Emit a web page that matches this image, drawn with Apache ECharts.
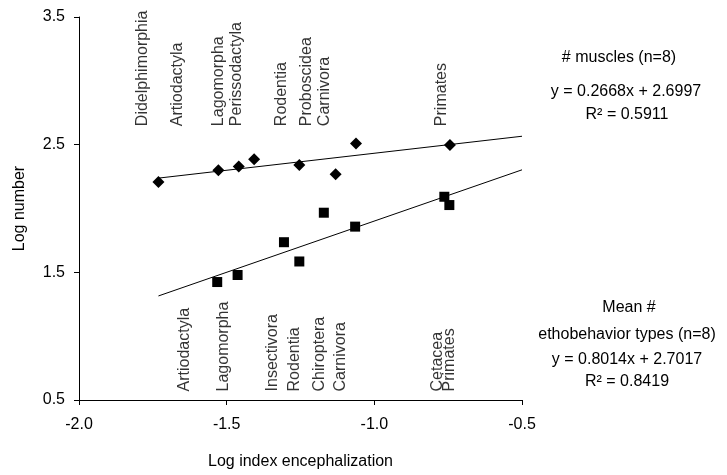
<!DOCTYPE html>
<html>
<head>
<meta charset="utf-8">
<script src="https://cdn.jsdelivr.net/npm/echarts@6/dist/echarts.min.js"></script>
<style>
  html, body { margin: 0; padding: 0; background: #fff; }
  #chart { width: 727px; height: 475px; }
</style>
</head>
<body>
<div id="chart"></div>
<script>
// valores
const musculos = [
  [-1.731, 2.208], [-1.528, 2.300], [-1.459, 2.329], [-1.407, 2.385],
  [-1.254, 2.341], [-1.131, 2.268], [-1.062, 2.510], [-0.744, 2.497],
];
const etocomport = [
  [-1.532, 1.424], [-1.463, 1.479], [-1.306, 1.736], [-1.254, 1.585],
  [-1.171, 1.967], [-1.065, 1.858], [-0.763, 2.092], [-0.746, 2.027],
];
const tendMusculos = [[-1.731, 2.238], [-0.5, 2.566]];
const tendEtocomport = [[-1.731, 1.315], [-0.5, 2.303]];

const ordenesArriba = ["Didelphimorphia", "Artiodactyla", "Lagomorpha", "Perissodactyla", "Rodentia", "Proboscidea", "Carnivora", "Primates"];
const xArriba = [-1.784, -1.667, -1.528, -1.466, -1.314, -1.231, -1.170, -0.772];
const ordenesAbajo = ["Artiodactyla", "Lagomorpha", "Insectivora", "Rodentia", "Chiroptera", "Carnivora", "Cetacea", "Primates"];
const xAbajo = [-1.641, -1.511, -1.344, -1.269, -1.184, -1.114, -0.787, -0.744];

const fuente = "Liberation Sans, Arial, sans-serif";
const tam = 16;

const etiquetas = (nombres, xs, y) =>
  nombres.map((n, i) => ({ value: [xs[i], y], name: n }));

const labelVertical = {
  show: true,
  position: "inside",
  rotate: 90,
  align: "left",
  verticalAlign: "middle",
  formatter: (p) => p.name,
  color: "#000",
  fontSize: tam,
  fontFamily: fuente,
};

const chart = echarts.init(document.getElementById("chart"));
chart.setOption({
  backgroundColor: "#fff",
  animation: false,
  grid: { left: 79, right: 205, top: 17, bottom: 73 },
  xAxis: {
    type: "value",
    min: -2.0,
    max: -0.5,
    interval: 0.5,
    name: "Log index encephalization",
    nameLocation: "middle",
    nameGap: 54,
    nameTextStyle: { color: "#000", fontSize: tam, fontFamily: fuente },
    axisLine: { lineStyle: { color: "#000", width: 1 } },
    axisTick: { inside: false, length: 5, lineStyle: { color: "#000" } },
    axisLabel: {
      color: "#000",
      fontSize: tam,
      fontFamily: fuente,
      margin: 17,
      formatter: (v) => v.toFixed(1),
    },
    splitLine: { show: false },
  },
  yAxis: {
    type: "value",
    min: 0.5,
    max: 3.5,
    interval: 1,
    name: "Log number",
    nameLocation: "middle",
    nameGap: 51,
    nameTextStyle: { color: "#000", fontSize: tam, fontFamily: fuente },
    axisLine: { show: true, lineStyle: { color: "#000", width: 1 } },
    axisTick: { show: true, length: 5, lineStyle: { color: "#000" } },
    axisLabel: {
      color: "#000",
      fontSize: tam,
      fontFamily: fuente,
      margin: 14,
      formatter: (v) => v.toFixed(1),
    },
    splitLine: { show: false },
  },
  series: [
    {
      name: "tend musculos",
      type: "line",
      data: tendMusculos,
      symbol: "none",
      lineStyle: { color: "#000", width: 1 },
      z: 1,
    },
    {
      name: "tend etocomport",
      type: "line",
      data: tendEtocomport,
      symbol: "none",
      lineStyle: { color: "#000", width: 1 },
      z: 1,
    },
    {
      name: "# muscles",
      type: "scatter",
      data: musculos,
      symbol: "diamond",
      symbolSize: [12, 12],
      itemStyle: { color: "#000", opacity: 1 },
      z: 3,
    },
    {
      name: "ethobehavior",
      type: "scatter",
      data: etocomport,
      symbol: "rect",
      symbolSize: [10, 10],
      itemStyle: { color: "#000", opacity: 1 },
      z: 3,
    },
    {
      name: "ordenes arriba",
      type: "scatter",
      data: etiquetas(ordenesArriba, xArriba, 2.645),
      symbolSize: 0,
      label: labelVertical,
    },
    {
      name: "ordenes abajo",
      type: "scatter",
      data: etiquetas(ordenesAbajo, xAbajo, 0.567),
      symbolSize: 0,
      label: labelVertical,
    },
  ],
  graphic: [
    ["# muscles (n=8)", 619, 58],
    ["y = 0.2668x + 2.6997", 626, 92],
    ["R\u00B2 = 0.5911", 627, 115],
    ["Mean #", 629, 308],
    ["ethobehavior types (n=8)", 627, 335],
    ["y = 0.8014x + 2.7017", 627, 360],
    ["R\u00B2 = 0.8419", 627, 382],
  ].map(([t, x, y]) => ({
    type: "text",
    x: x,
    y: y,
    style: {
      text: t,
      fill: "#000",
      font: tam + "px " + fuente,
      textAlign: "center",
      textVerticalAlign: "middle",
    },
  })),
});
</script>
</body>
</html>
